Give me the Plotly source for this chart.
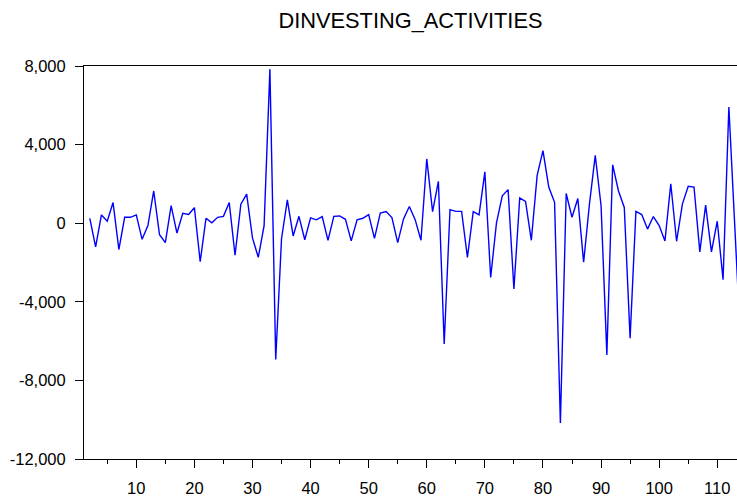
import plotly.graph_objects as go

# Series: first difference of investing activities, observations 2..114
first_obs = 2
values = [
    250, -1210, 420, 100, 1050, -1340, 300, 300, 420, -820,
    -120, 1640, -590, -990, 900, -500, 500, 440, 790, -1960,
    250, 20, 300, 350, 1050, -1630, 970, 1480, -750, -1740,
    -120, 7840, -6940, -790, 1190, -650, 350, -840, 270, 170,
    340, -870, 350, 370, 200, -900, 170, 250, 440, -770,
    520, 590, 290, -990, 220, 850, 180, -870, 3270, 590,
    2130, -6150, 690, 600, 600, -1740, 590, 420, 2610, -2760,
    20, 1390, 1710, -3350, 1290, 1110, -870, 2430, 3690, 1840,
    1060, -10170, 1510, 300, 1260, -1990, 970, 3450, 890, -6700,
    2970, 1640, 800, -5850, 600, 440, -300, 340, -120, -900,
    2010, -920, 970, 1880, 1840, -1460, 920, -1460, 100, -2880,
    5910, -150, -6000,
]
obs = list(range(first_obs, first_obs + len(values)))

x_tick_vals = [10, 20, 30, 40, 50, 60, 70, 80, 90, 100, 110]
y_tick_vals = [8000, 4000, 0, -4000, -8000, -12000]
y_tick_text = ["8,000", "4,000", "0", "-4,000", "-8,000", "-12,000"]

font_family = "Liberation Sans, Arial, sans-serif"

fig = go.Figure()
fig.add_trace(go.Scatter(
    x=obs, y=values, mode="lines",
    line=dict(color="#0000ff", width=1.4),
    hoverinfo="skip", showlegend=False,
))

fig.update_layout(
    width=737, height=497,
    margin=dict(l=84, r=0, t=66, b=33),
    paper_bgcolor="white", plot_bgcolor="white",
    font=dict(family=font_family, size=16.5, color="black"),
    title=dict(
        text="DINVESTING_ACTIVITIES",
        font=dict(family=font_family, size=21.8, color="black"),
        x=0.5, xref="paper", xanchor="center",
        y=1 - 20 / 497, yref="container", yanchor="middle",
    ),
)

fig.update_xaxes(
    range=[1, 113.4],
    showgrid=False, zeroline=False,
    showline=True, linecolor="black", linewidth=1, mirror=True,
    tickmode="array", tickvals=x_tick_vals,
    ticks="outside", ticklen=8, tickwidth=1, tickcolor="black",
    ticklabelstandoff=6,
    minor=dict(dtick=5, tick0=0, ticks="outside", ticklen=4,
               tickwidth=1, tickcolor="black", showgrid=False),
)

fig.update_yaxes(
    range=[-12000, 8000],
    showgrid=False, zeroline=False,
    showline=True, linecolor="black", linewidth=1, mirror=False,
    tickmode="array", tickvals=y_tick_vals, ticktext=y_tick_text,
    ticks="outside", ticklen=8, tickwidth=1, tickcolor="black",
    ticklabelstandoff=6,
)

fig.write_html("out.html")
